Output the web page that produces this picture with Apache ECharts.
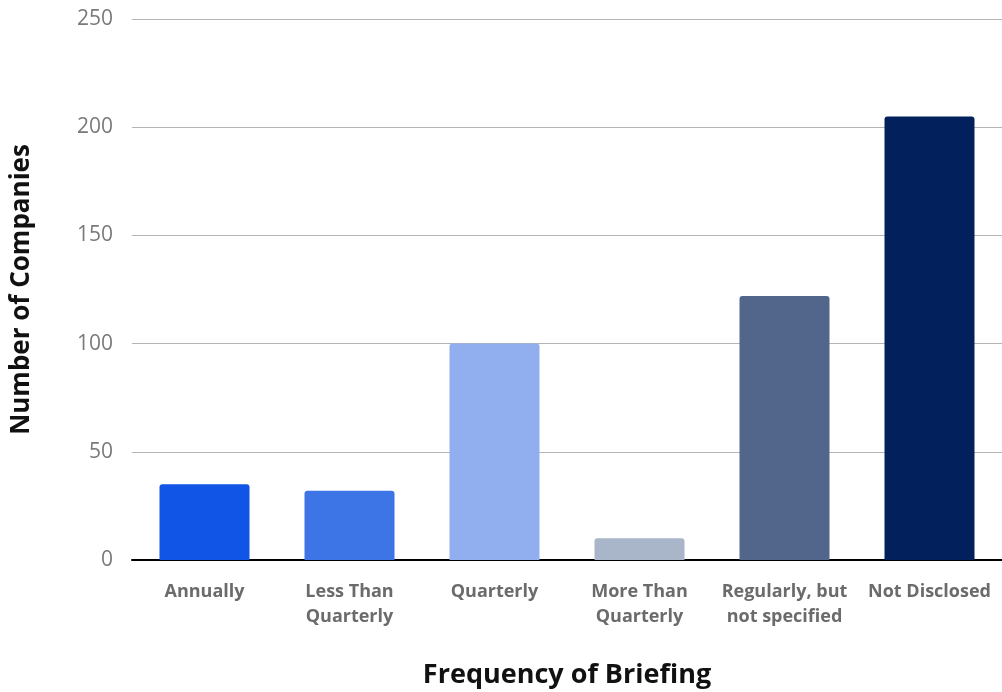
<!DOCTYPE html>
<html>
<head>
<meta charset="utf-8">
<script src="https://cdn.jsdelivr.net/npm/echarts@6/dist/echarts.min.js"></script>
<style>
  html, body { margin: 0; padding: 0; background: #ffffff; }
  #chart { width: 1002px; height: 692px; }
</style>
</head>
<body>
<div id="chart"></div>
<script>
  // data
  const categories = ['Annually', 'Less Than\nQuarterly', 'Quarterly', 'More Than\nQuarterly', 'Regularly, but\nnot specified', 'Not Disclosed']
  const companies = [35, 32, 100, 10, 122, 205]
  const barColors = ['#1155E6', '#3D74E6', '#91AFEF', '#A9B5C8', '#52668C', '#02205C']
  const yTicks = [0, 50, 100, 150, 200, 250]

  let myChart = echarts.init(document.getElementById('chart'))

  let option = {
    backgroundColor: '#ffffff',
    animation: false,
    grid: {
      left: 132,
      right: 0,
      top: 19,
      bottom: 132,
      outerBoundsMode: 'none'
    },
    xAxis: {
      type: 'category',
      data: categories,
      name: 'Frequency of Briefing',
      nameLocation: 'middle',
      nameGap: 102,
      nameTextStyle: {
        fontFamily: 'Open Sans',
        fontWeight: 'bold',
        fontSize: 27,
        color: '#111111'
      },
      axisLine: { lineStyle: { color: '#000000', width: 2 } },
      axisTick: { show: false },
      axisLabel: {
        interval: 0,
        margin: 19,
        fontFamily: 'Open Sans',
        fontWeight: 'bold',
        fontSize: 18,
        lineHeight: 25,
        color: '#6b6b6b'
      }
    },
    yAxis: {
      type: 'value',
      min: yTicks[0],
      max: yTicks[yTicks.length - 1],
      interval: 50,
      name: 'Number of Companies',
      nameLocation: 'middle',
      nameRotate: 90,
      nameGap: 97,
      nameTextStyle: {
        fontFamily: 'Open Sans',
        fontWeight: 'bold',
        fontSize: 26,
        color: '#111111'
      },
      axisLine: { show: false },
      axisTick: { show: false },
      axisLabel: {
        margin: 19,
        fontFamily: 'Open Sans',
        fontSize: 21,
        color: '#7a7a7a'
      },
      splitLine: { lineStyle: { color: '#b4b4b4', width: 1 } }
    },
    series: [
      {
        type: 'bar',
        barWidth: 90,
        data: companies.map(function (v, i) {
          return { value: v, itemStyle: { color: barColors[i] } }
        }),
        itemStyle: { borderRadius: [3, 3, 0, 0] }
      }
    ]
  }

  myChart.setOption(option)
</script>
</body>
</html>
